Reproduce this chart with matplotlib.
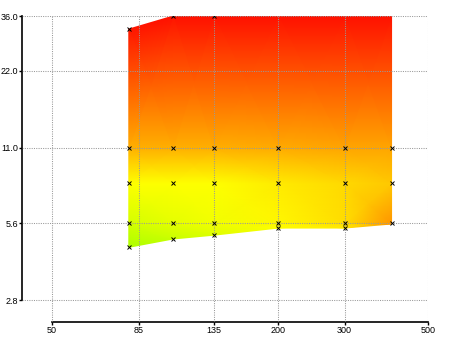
import numpy as np
import matplotlib
matplotlib.use('Agg')
import matplotlib.pyplot as plt
from matplotlib.colors import LinearSegmentedColormap

# surface columns (x) and row heights per column (bottom -> top)
x_cols = [80, 105, 135, 200, 300, 400]
y_bottom = [4.5, 4.85, 5.02, 5.35, 5.35, 5.55]
y_row_56 = [5.6, 5.6, 5.6, 5.6, 5.6, 5.6]
y_row_8 = [8.0, 8.0, 8.0, 8.0, 8.0, 8.0]
y_row_11 = [11.0, 11.0, 11.0, 11.0, 11.0, 11.0]
y_top = [32.0, 36.0, 36.0, 36.0, 36.0, 36.0]

# surface value (hue-like, 0 = red, 60 = yellow, 80 = yellow green)
z_bottom = [80, 73, 68, 60, 55, 35]
z_row_56 = [70, 66, 63, 58, 52, 35]
z_row_8 = [60, 60, 60, 55, 51, 47]
z_row_11 = [41, 41, 41, 40, 39, 39]
z_top = [5, 4, 4, 4, 4, 4]

# measured points (markers)
pts_x = [80, 80, 80, 80, 80,
         105, 105, 105, 105, 105,
         135, 135, 135, 135, 135,
         200, 200, 200, 200,
         300, 300, 300, 300,
         400, 400, 400]
pts_y = [32, 11, 8, 5.6, 4.5,
         36, 11, 8, 5.6, 4.85,
         36, 11, 8, 5.6, 5.02,
         11, 8, 5.6, 5.35,
         11, 8, 5.6, 5.35,
         11, 8, 5.6]

x_ticks = [50, 85, 135, 200, 300, 500]
x_labels = ['50', '85', '135', '200', '300', '500']
y_ticks = [2.8, 5.6, 11.0, 22.0, 36.0]
y_labels = ['2.8', '5.6', '11.0', '22.0', '36.0']

plt.rcParams['font.family'] = ['Liberation Sans', 'DejaVu Sans']

cmap = LinearSegmentedColormap.from_list(
    'hue', [(0.0, (1, 0, 0)), (60 / 80, (1, 1, 0)), (1.0, (0.67, 1, 0))])

fig = plt.figure(figsize=(4.5, 3.37), dpi=100)
ax = fig.add_axes([22 / 450, 1 - 322 / 337, 406 / 450, 306 / 337])

X = np.array([x_cols] * 5, dtype=float)
Y = np.array([y_bottom, y_row_56, y_row_8, y_row_11, y_top], dtype=float)
Z = np.array([z_bottom, z_row_56, z_row_8, z_row_11, z_top], dtype=float)
ax.pcolormesh(X, Y, Z, shading='gouraud', cmap=cmap, vmin=0, vmax=80, zorder=1)

ax.plot(pts_x, pts_y, linestyle='', marker='x', color='black',
        markersize=2.5, markeredgewidth=0.7, zorder=4)

ax.set_xscale('log')
ax.set_yscale('log')
ax.set_xlim(41.6, 500)
ax.set_ylim(2.30, 36)

ax.set_xticks(x_ticks)
ax.set_xticklabels(x_labels)
ax.set_yticks(y_ticks)
ax.set_yticklabels(y_labels)
ax.minorticks_off()
ax.tick_params(labelsize=6.5, length=2, width=1, pad=1, color='black')

ax.grid(True, color='#999999', linestyle=(0, (1, 1.2)), linewidth=0.75, zorder=3)
ax.set_axisbelow(False)

for side in ['top', 'right']:
    ax.spines[side].set_visible(False)
ax.spines['left'].set_bounds(2.8, 36)
ax.spines['bottom'].set_bounds(50, 500)
ax.spines['left'].set_linewidth(1.2)
ax.spines['bottom'].set_linewidth(1.2)

fig.savefig('out.png', dpi=100)
